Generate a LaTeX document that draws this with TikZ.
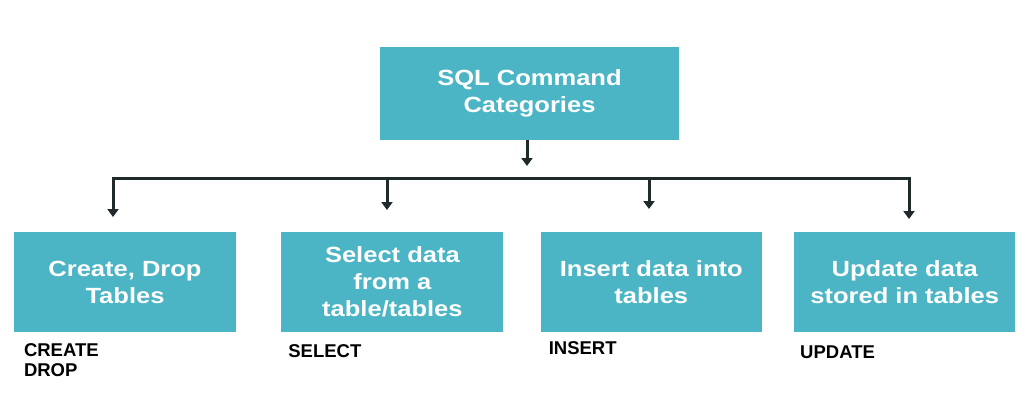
\documentclass[tikz,border=0pt]{standalone}
\usepackage{fontspec}
\setmainfont{Liberation Sans}
\newfontfamily\wideface[FakeStretch=1.16]{Liberation Sans}
\usetikzlibrary{positioning,arrows.meta}
\definecolor{sqlteal}{HTML}{4BB5C5}
\definecolor{bar}{HTML}{1F2B2B}

\begin{document}
\begin{tikzpicture}[x=1pt,y=-1pt,>={Triangle[width=11pt,length=8pt]},
    link/.style={->,draw=bar,fill=bar,line width=3pt},
    box/.style={fill=sqlteal,text=white,font=\wideface\bfseries\fontsize{22}{27}\selectfont,align=center,inner sep=0pt,minimum width=222pt,minimum height=100pt},
    cmd/.style={font=\bfseries\fontsize{18.5}{20}\selectfont,align=left,inner sep=0pt}]
    \useasboundingbox (0,0) rectangle (1036,400);
    \node[box,minimum width=299pt,minimum height=93pt] (c) at (529.5,93.5) {SQL Command\\Categories};
    \node[box] (c1) at (125,282) {Create, Drop\\Tables};
    \node[box] (c2) [right=45pt of c1] {Select data\\from a\\table/tables};
    \node[box,minimum width=221pt] (c3) [right=37pt of c2] {Insert data into\\tables};
    \node[box,minimum width=221pt] (c4) [right=32pt of c3] {Update data\\stored in tables};
    \foreach \x/\dx/\dy/\t in {1/10/11/{CREATE\\DROP},2/7/12/SELECT,3/8/9/INSERT,4/6/13/UPDATE}
        \node[cmd] (k\x) [below right=\dy pt and \dx pt of c\x.south west] {\t};
    \coordinate (s) at (527,166);
    \draw[link] (c.south -| s) -- (s);
    \foreach \x/\px/\py in {1/113/217,2/387/210,3/649/209,4/909/219} {
        \coordinate (b\x) at (\px,178);
        \coordinate (e\x) at (\px,\py);
    }
    \draw[link,-,line cap=rect] (b1) -- (b4);
    \foreach \x in {1,...,4}
        \draw[link] (b\x) -- (e\x);
\end{tikzpicture}
\end{document}
